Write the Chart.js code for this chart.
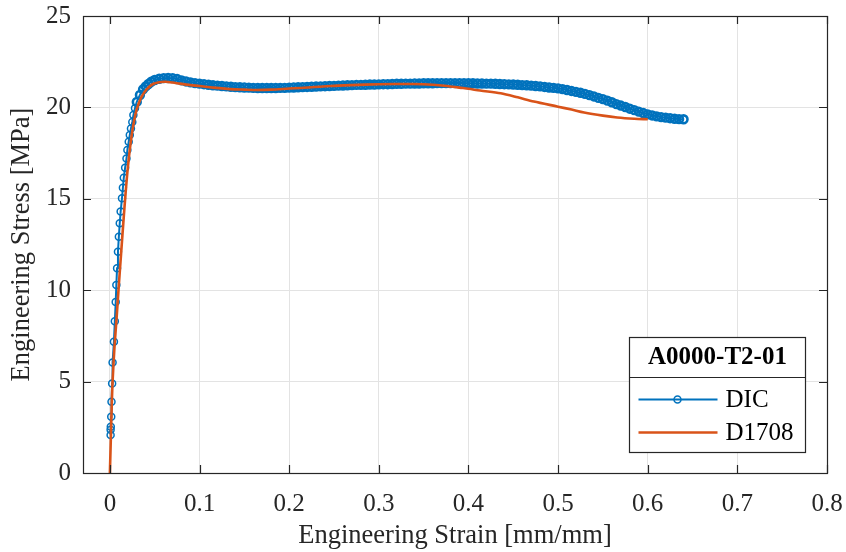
<!DOCTYPE html>
<html>
<head>
<meta charset="utf-8">
<script src="https://cdn.jsdelivr.net/npm/chart.js@4.4.0/dist/chart.umd.min.js"></script>
<style>
  body { margin: 0; background: #fff; }
  canvas { display: block; }
</style>
</head>
<body>
<canvas id="chart" width="846" height="552"></canvas>
<script>
// DIC (digital image correlation) strain / stress
const dicStrain = [
  0.0008, 0.0008, 0.0010, 0.0015, 0.0018, 0.0025, 0.0030, 0.0045, 0.0055, 0.0065,
  0.0072, 0.0080, 0.0090, 0.0100, 0.0110, 0.0120, 0.0135, 0.0145, 0.0155, 0.0170,
  0.0185, 0.0195, 0.0210, 0.0222, 0.0235, 0.0250, 0.0262, 0.0280,
  0.030, 0.0335, 0.037, 0.040, 0.043, 0.046, 0.050, 0.055, 0.060, 0.065,
  0.070, 0.075, 0.080, 0.085, 0.090, 0.095, 0.100, 0.105, 0.110, 0.115,
  0.120, 0.125, 0.130, 0.135, 0.140, 0.145, 0.150, 0.155, 0.160, 0.165,
  0.170, 0.175, 0.180, 0.185, 0.190, 0.195, 0.200, 0.205, 0.210, 0.215,
  0.220, 0.225, 0.230, 0.235, 0.240, 0.245, 0.250, 0.255, 0.260, 0.265,
  0.270, 0.275, 0.280, 0.285, 0.290, 0.295, 0.300, 0.305, 0.310, 0.315,
  0.320, 0.325, 0.330, 0.335, 0.340, 0.345, 0.350, 0.355, 0.360, 0.365,
  0.370, 0.375, 0.380, 0.385, 0.390, 0.395, 0.400, 0.405, 0.410, 0.415,
  0.420, 0.425, 0.430, 0.435, 0.440, 0.445, 0.450, 0.455, 0.460, 0.465,
  0.470, 0.475, 0.480, 0.485, 0.490, 0.495, 0.500, 0.505, 0.510, 0.515,
  0.520, 0.525, 0.530, 0.535, 0.540, 0.545, 0.550, 0.555, 0.560, 0.565,
  0.570, 0.575, 0.580, 0.585, 0.590, 0.595, 0.600, 0.605, 0.610, 0.615,
  0.620, 0.625, 0.630, 0.635, 0.640
];
const dicStress = [
  2.08, 2.36, 2.53, 3.08, 3.90, 4.90, 6.04, 7.18, 8.30, 9.35,
  10.28, 11.20, 12.10, 12.93, 13.66, 14.30, 15.03, 15.60, 16.15, 16.70,
  17.20, 17.67, 18.12, 18.49, 18.85, 19.20, 19.58, 19.95,
  20.30, 20.68, 20.99, 21.15, 21.28, 21.40, 21.50, 21.57, 21.60, 21.61,
  21.60, 21.55, 21.48, 21.42, 21.37, 21.33, 21.30, 21.27, 21.24, 21.21,
  21.19, 21.17, 21.15, 21.13, 21.11, 21.10, 21.09, 21.08, 21.07, 21.06,
  21.06, 21.06, 21.06, 21.06, 21.07, 21.07, 21.08, 21.09, 21.10, 21.11,
  21.12, 21.13, 21.14, 21.15, 21.16, 21.17, 21.18, 21.19, 21.20, 21.21,
  21.22, 21.23, 21.23, 21.24, 21.25, 21.25, 21.26, 21.27, 21.27, 21.28,
  21.29, 21.29, 21.30, 21.30, 21.31, 21.31, 21.32, 21.32, 21.32, 21.33,
  21.33, 21.33, 21.33, 21.33, 21.33, 21.33, 21.32, 21.32, 21.31, 21.31,
  21.30, 21.30, 21.29, 21.28, 21.27, 21.26, 21.25, 21.24, 21.22, 21.21,
  21.19, 21.17, 21.15, 21.12, 21.09, 21.07, 21.04, 21.00, 20.95, 20.90,
  20.85, 20.80, 20.74, 20.67, 20.60, 20.52, 20.45, 20.37, 20.28, 20.18,
  20.10, 20.02, 19.93, 19.85, 19.77, 19.69, 19.62, 19.56, 19.51, 19.47,
  19.44, 19.41, 19.38, 19.36, 19.35
];
// first points sit apart on the elastic rise, the rest form the dense band
const dicSparseCount = 28;

// D1708 reference test
const d1708Strain = [
  0, 0.001, 0.002, 0.003, 0.005, 0.0075, 0.010, 0.0125, 0.015, 0.0175,
  0.020, 0.023, 0.026, 0.030, 0.035, 0.041, 0.048, 0.055, 0.062, 0.070,
  0.078, 0.090, 0.100, 0.115, 0.134, 0.150, 0.164, 0.180, 0.200, 0.225,
  0.246, 0.270, 0.300, 0.320, 0.338, 0.360, 0.376, 0.390, 0.400, 0.413,
  0.436, 0.455, 0.473, 0.500, 0.515, 0.529, 0.550, 0.566, 0.585, 0.600
];
const d1708Stress = [
  0, 1.8, 3.6, 5.0, 6.8, 8.5, 10.3, 12.0, 13.7, 15.3,
  16.7, 18.0, 19.0, 19.9, 20.55, 20.99, 21.28, 21.38, 21.40, 21.36,
  21.30, 21.22, 21.17, 21.08, 21.00, 20.97, 20.95, 20.97, 21.03, 21.10,
  21.17, 21.22, 21.27, 21.28, 21.28, 21.24, 21.17, 21.08, 21.02, 20.92,
  20.77, 20.55, 20.32, 20.04, 19.88, 19.72, 19.55, 19.45, 19.38, 19.35
];

const xTicks = [0, 0.1, 0.2, 0.3, 0.4, 0.5, 0.6, 0.7, 0.8];
const yTicks = [0, 5, 10, 15, 20, 25];
const legendTitle = 'A0000-T2-01';

const BLUE = '#0072BD';
const ORANGE = '#D95319';
const AXIS = '#262626';
const FONT = '"Liberation Serif", "Times New Roman", serif';

const toPoints = (xs, ys) => xs.map((x, i) => ({ x: x, y: ys[i] }));

// box around the plot plus inward tick marks on all four sides
const boxPlugin = {
  id: 'box',
  afterDatasetsDraw(chart) {
    const { ctx, chartArea: a, scales } = chart;
    const len = 8;
    ctx.save();
    ctx.strokeStyle = AXIS;
    ctx.lineWidth = 1.2;
    ctx.beginPath();
    xTicks.forEach(v => {
      const px = Math.round(scales.x.getPixelForValue(v)) + 0.5;
      ctx.moveTo(px, a.bottom); ctx.lineTo(px, a.bottom - len);
      ctx.moveTo(px, a.top); ctx.lineTo(px, a.top + len);
    });
    yTicks.forEach(v => {
      const py = Math.round(scales.y.getPixelForValue(v)) + 0.5;
      ctx.moveTo(a.left, py); ctx.lineTo(a.left + len, py);
      ctx.moveTo(a.right, py); ctx.lineTo(a.right - len, py);
    });
    ctx.stroke();
    ctx.strokeRect(Math.round(a.left) + 0.5, Math.round(a.top) + 0.5,
      Math.round(a.right - a.left), Math.round(a.bottom - a.top));
    ctx.restore();
  }
};

// MATLAB style legend with a bold title row
const legendPlugin = {
  id: 'boxLegend',
  afterDraw(chart) {
    const ctx = chart.ctx;
    const x0 = 629.5, y0 = 337.5, w = 176, h = 115, split = 40;
    ctx.save();
    ctx.fillStyle = '#fff';
    ctx.fillRect(x0, y0, w, h);
    ctx.strokeStyle = AXIS;
    ctx.lineWidth = 1.2;
    ctx.strokeRect(x0, y0, w, h);
    ctx.beginPath();
    ctx.moveTo(x0, y0 + split); ctx.lineTo(x0 + w, y0 + split);
    ctx.stroke();

    ctx.fillStyle = '#000';
    ctx.textBaseline = 'middle';
    ctx.textAlign = 'center';
    ctx.font = 'bold 25px ' + FONT;
    ctx.fillText(legendTitle, x0 + w / 2, y0 + 20);

    ctx.textAlign = 'left';
    ctx.font = '25px ' + FONT;
    const rows = [y0 + 62, y0 + 95];
    chart.data.datasets.forEach((ds, i) => {
      const y = rows[i];
      ctx.strokeStyle = ds.borderColor;
      ctx.lineWidth = ds.borderWidth;
      ctx.beginPath();
      ctx.moveTo(x0 + 9, y); ctx.lineTo(x0 + 88, y);
      ctx.stroke();
      if (ds.label === 'DIC') {
        ctx.lineWidth = 1.5;
        ctx.beginPath();
        ctx.arc(x0 + 48, y, 3.5, 0, Math.PI * 2);
        ctx.stroke();
      }
      ctx.fillStyle = '#000';
      ctx.fillText(ds.label, x0 + 96, y + 1);
    });
    ctx.restore();
  }
};

new Chart(document.getElementById('chart'), {
  type: 'line',
  data: {
    datasets: [
      {
        label: 'DIC',
        data: toPoints(dicStrain, dicStress),
        borderColor: BLUE,
        borderWidth: 2,
        pointRadius: c => c.dataIndex < dicSparseCount ? 3.5 : 3.9,
        pointBorderWidth: c => c.dataIndex < dicSparseCount ? 1.5 : 2.6,
        pointBorderColor: BLUE,
        pointBackgroundColor: 'rgba(0,0,0,0)',
        tension: 0,
        order: 2
      },
      {
        label: 'D1708',
        data: toPoints(d1708Strain, d1708Stress),
        borderColor: ORANGE,
        borderWidth: 2.6,
        pointRadius: 0,
        tension: 0.3,
        order: 1
      }
    ]
  },
  options: {
    responsive: false,
    animation: false,
    events: [],
    layout: { padding: { left: 0, right: 19, top: 16, bottom: 0 } },
    plugins: {
      legend: { display: false },
      tooltip: { enabled: false }
    },
    scales: {
      x: {
        type: 'linear',
        min: -0.03,
        max: 0.8,
        afterFit(scale) {
          scale.height = 79;
          scale.paddingLeft = 0;
          scale.paddingRight = 0;
        },
        afterBuildTicks(scale) { scale.ticks = xTicks.map(v => ({ value: v })); },
        grid: { color: '#e3e3e3', lineWidth: 1, drawTicks: false },
        border: { display: false },
        ticks: {
          color: AXIS,
          padding: 16,
          maxRotation: 0,
          font: { family: FONT, size: 25 },
          callback: v => String(Number(v.toFixed(1)))
        },
        title: {
          display: true,
          text: 'Engineering Strain [mm/mm]',
          color: AXIS,
          font: { family: FONT, size: 26.5 },
          padding: { top: 0, bottom: 0 }
        }
      },
      y: {
        min: 0,
        max: 25,
        afterFit(scale) {
          scale.width = 83;
          scale.paddingTop = 0;
          scale.paddingBottom = 0;
        },
        afterBuildTicks(scale) { scale.ticks = yTicks.map(v => ({ value: v })); },
        grid: { color: '#e3e3e3', lineWidth: 1, drawTicks: false },
        border: { display: false },
        ticks: {
          color: AXIS,
          padding: 12,
          font: { family: FONT, size: 25 }
        },
        title: {
          display: true,
          text: 'Engineering Stress [MPa]',
          color: AXIS,
          font: { family: FONT, size: 26.5 },
          padding: { top: 6, bottom: 0 }
        }
      }
    }
  },
  plugins: [boxPlugin, legendPlugin]
});
</script>
</body>
</html>
